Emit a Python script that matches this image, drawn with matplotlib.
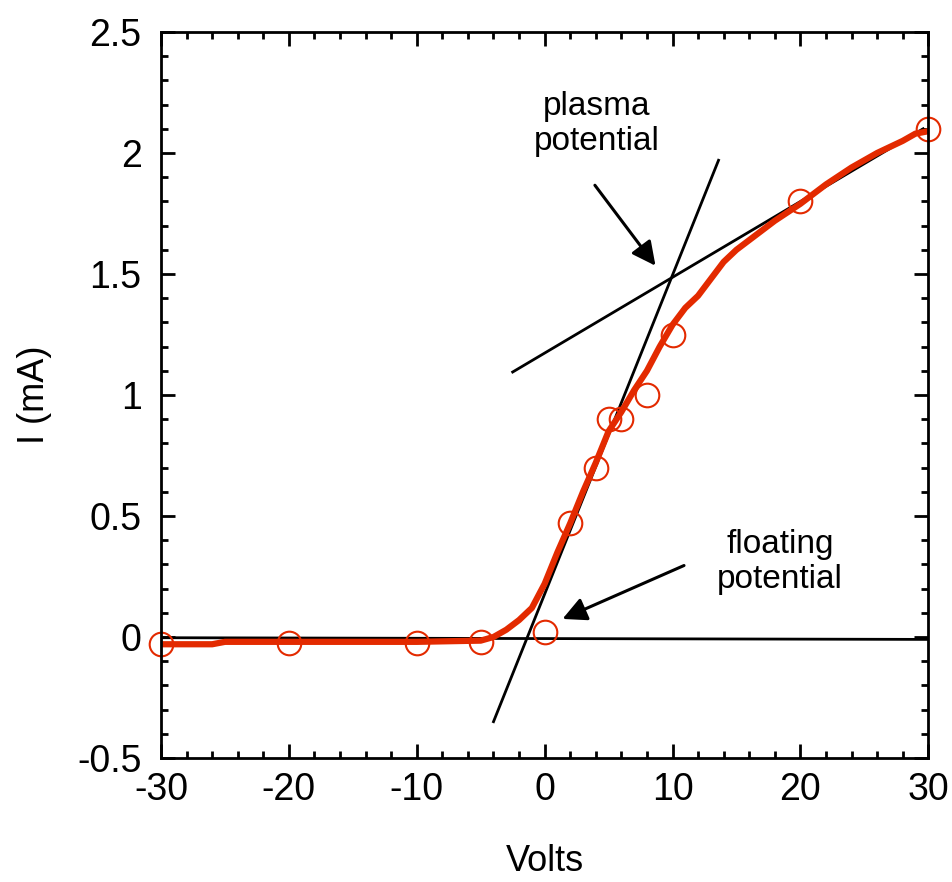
import matplotlib
matplotlib.use("Agg")

import matplotlib.pyplot as plt
import numpy as np

plt.rcParams["font.family"] = ["Liberation Sans", "DejaVu Sans"]
plt.rcParams["axes.unicode_minus"] = False

# 측정점 (원)
pt_v = [-30, -20, -10, -5, 0, 2, 4, 5, 6, 8, 10, 20, 30]
pt_i = [-0.03, -0.025, -0.025, -0.02, 0.02, 0.47, 0.70, 0.90, 0.90, 1.00, 1.25, 1.80, 2.10]

# 연속 I-V 곡선
curve_v = [-30, -26, -25, -20, -10, -5, -4, -3, -2, -1, 0, 1, 2, 3, 4, 5, 6, 7, 8, 9,
           10, 11, 12, 13, 14, 15, 16, 18, 20, 22, 24, 26, 28, 29, 30]
curve_i = [-0.03, -0.03, -0.02, -0.02, -0.02, -0.015, 0.0, 0.03, 0.07, 0.12, 0.22,
           0.35, 0.47, 0.60, 0.72, 0.85, 0.93, 1.02, 1.10, 1.20, 1.29, 1.36, 1.41,
           1.48, 1.55, 1.60, 1.64, 1.72, 1.79, 1.87, 1.94, 2.00, 2.05, 2.08, 2.09]

# 접선 3개
base_v, base_i = [-30, 30], [-0.003, -0.01]
steep_v, steep_i = [-4.0, 13.6], [-0.35, 1.97]
sat_v, sat_i = [-2.5, 29.6], [1.095, 2.10]

fig = plt.figure(figsize=(9.53, 8.82), dpi=100)
ax = fig.add_axes([0.169, 0.1406, 0.805, 0.8231])

ax.plot(base_v, base_i, color="black", linewidth=2.0)
ax.plot(steep_v, steep_i, color="black", linewidth=2.0)
ax.plot(sat_v, sat_i, color="black", linewidth=2.0)
ax.plot(curve_v, curve_i, color="#e32a00", linewidth=4.5, solid_capstyle="round")
ax.plot(pt_v, pt_i, linestyle="none", marker="o", markersize=17,
        markerfacecolor="none", markeredgecolor="#e32a00", markeredgewidth=1.5,
        clip_on=False)

arrow = dict(arrowstyle="-|>", color="black", linewidth=2.2, mutation_scale=36)
ax.annotate("", xy=(8.8, 1.525), xytext=(3.8, 1.876), arrowprops=arrow)
ax.annotate("", xy=(1.2, 0.07), xytext=(11.1, 0.30), arrowprops=arrow)
ax.text(4.1, 2.12, "plasma\npotential", fontsize=24, ha="center", va="center",
        linespacing=1.15)
ax.text(18.4, 0.31, "floating\npotential", fontsize=24, ha="center", va="center",
        linespacing=1.15)

ax.set_xlim(-30, 30)
ax.set_ylim(-0.5, 2.5)
ax.set_xticks(np.arange(-30, 31, 10))
ax.set_xticks(np.arange(-30, 31, 2), minor=True)
ax.set_yticks([-0.5, 0, 0.5, 1, 1.5, 2, 2.5])
ax.set_yticklabels(["-0.5", "0", "0.5", "1", "1.5", "2", "2.5"])
ax.set_yticks(np.arange(-0.5, 2.51, 0.1), minor=True)
ax.tick_params(which="both", direction="in", top=True, right=True, width=2,
               labelsize=27)
ax.tick_params(axis="x", pad=10)
ax.tick_params(axis="y", pad=14)
ax.tick_params(which="major", length=10)
ax.tick_params(which="minor", length=5)
for s in ax.spines.values():
    s.set_linewidth(2)

ax.set_xlabel("Volts", fontsize=26, labelpad=26)
ax.set_ylabel("I (mA)", fontsize=26, labelpad=18)

plt.savefig("out.png", dpi=100)
